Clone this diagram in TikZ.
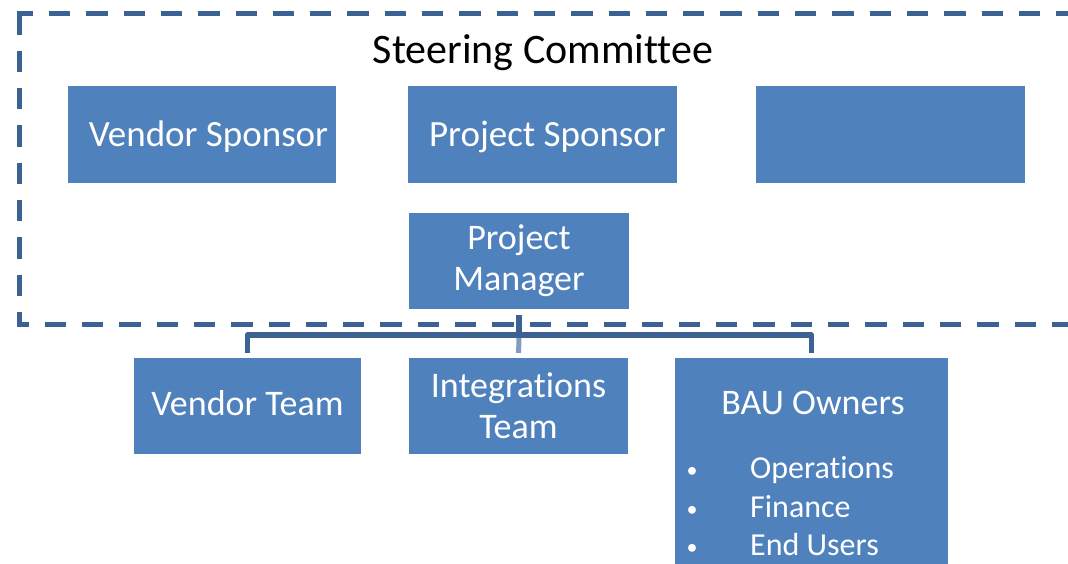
\documentclass[tikz,border=0pt]{standalone}
\usepackage{fontspec}
\setmainfont{Carlito}[Ligatures=NoCommon]
\definecolor{boxblue}{HTML}{4F81BD}
\definecolor{lineblue}{HTML}{3C6193}
\definecolor{dropblue}{HTML}{7F9CC4}
\begin{document}
\begin{tikzpicture}[x=1pt,y=-1pt,
  box/.style={fill=boxblue, draw=none, text=white, inner sep=0pt, align=center,
    font=\fontsize{36}{41}\selectfont},
  toprow/.style={box, minimum width=268pt, minimum height=97pt,
    text height=24.4pt, text depth=0pt, font=\fontsize{37}{41}\selectfont},
  frame/.style={draw=lineblue, line width=5pt, dash pattern=on 21.3pt off 16pt},
  conn/.style={draw=lineblue, line width=5.5pt, line join=round},
  drop/.style={draw=dropblue, line width=5pt},
  listtext/.style={text=white, inner sep=0pt, font=\fontsize{32}{36}\selectfont},
  bullet/.style={text=white, inner sep=0pt, font=\fontsize{22}{26}\selectfont}]
\clip (0,0) rectangle (1068,563);
\fill[white] (0,0) rectangle (1068,563);

% steering committee frame (open on the right)
\draw[frame, dash phase=5.3pt] (17,13.5) -- (1100,13.5);
\draw[frame] (19.5,13.5) -- (19.5,324) -- (1100,324);
\node[anchor=base, inner sep=0pt, font=\fontsize{42}{48}\selectfont] (sc) at (543,63) {Steering Committee};

% committee members
\node[toprow] (vs) at (202,134.5) {\hspace*{13pt}Vendor Sponsor};
\node[toprow, minimum width=269pt] (ps) at (542.5,134.5) {\hspace*{10pt}Project Sponsor};
\node[toprow, minimum width=269pt] (blank) at (890.5,134.5) {};
\node[box, minimum width=220pt, minimum height=96pt] (pm) at (519,261) {Project\\Manager};

% teams
\node[box, minimum width=227pt, minimum height=96pt, text height=18pt, text depth=0pt] (vt) at (247.5,406) {Vendor Team};
\node[box, minimum width=219pt, minimum height=96pt] (it) at (518.5,406) {Integrations\\Team};
\node[box, minimum width=273pt, minimum height=208pt] (bau) at (811.5,462) {};
\node[anchor=base, inner sep=0pt, text=white, font=\fontsize{36}{41}\selectfont] (bautitle) at (813,414) {BAU Owners};
\node[bullet, anchor=base] (b1) at (692,477) {•};
\node[bullet, anchor=base] (b2) at (692,516) {•};
\node[bullet, anchor=base] (b3) at (692,554) {•};
\node[listtext, anchor=base west] (ops) at (750,478) {Operations};
\node[listtext, anchor=base west] (fin) at (750,517) {Finance};
\node[listtext, anchor=base west] (eu) at (750,555) {End Users};

% reporting lines
\draw[conn, shorten <=6pt] (pm.south) -- (pm.south |- 0,335) coordinate (hub);
\draw[drop, shorten <=3pt, shorten >=5pt] (hub) -- (it.north);
\draw[conn, shorten <=5pt, shorten >=5pt] (vt.north) |- (hub) -| (bau.north);
\end{tikzpicture}
\end{document}
